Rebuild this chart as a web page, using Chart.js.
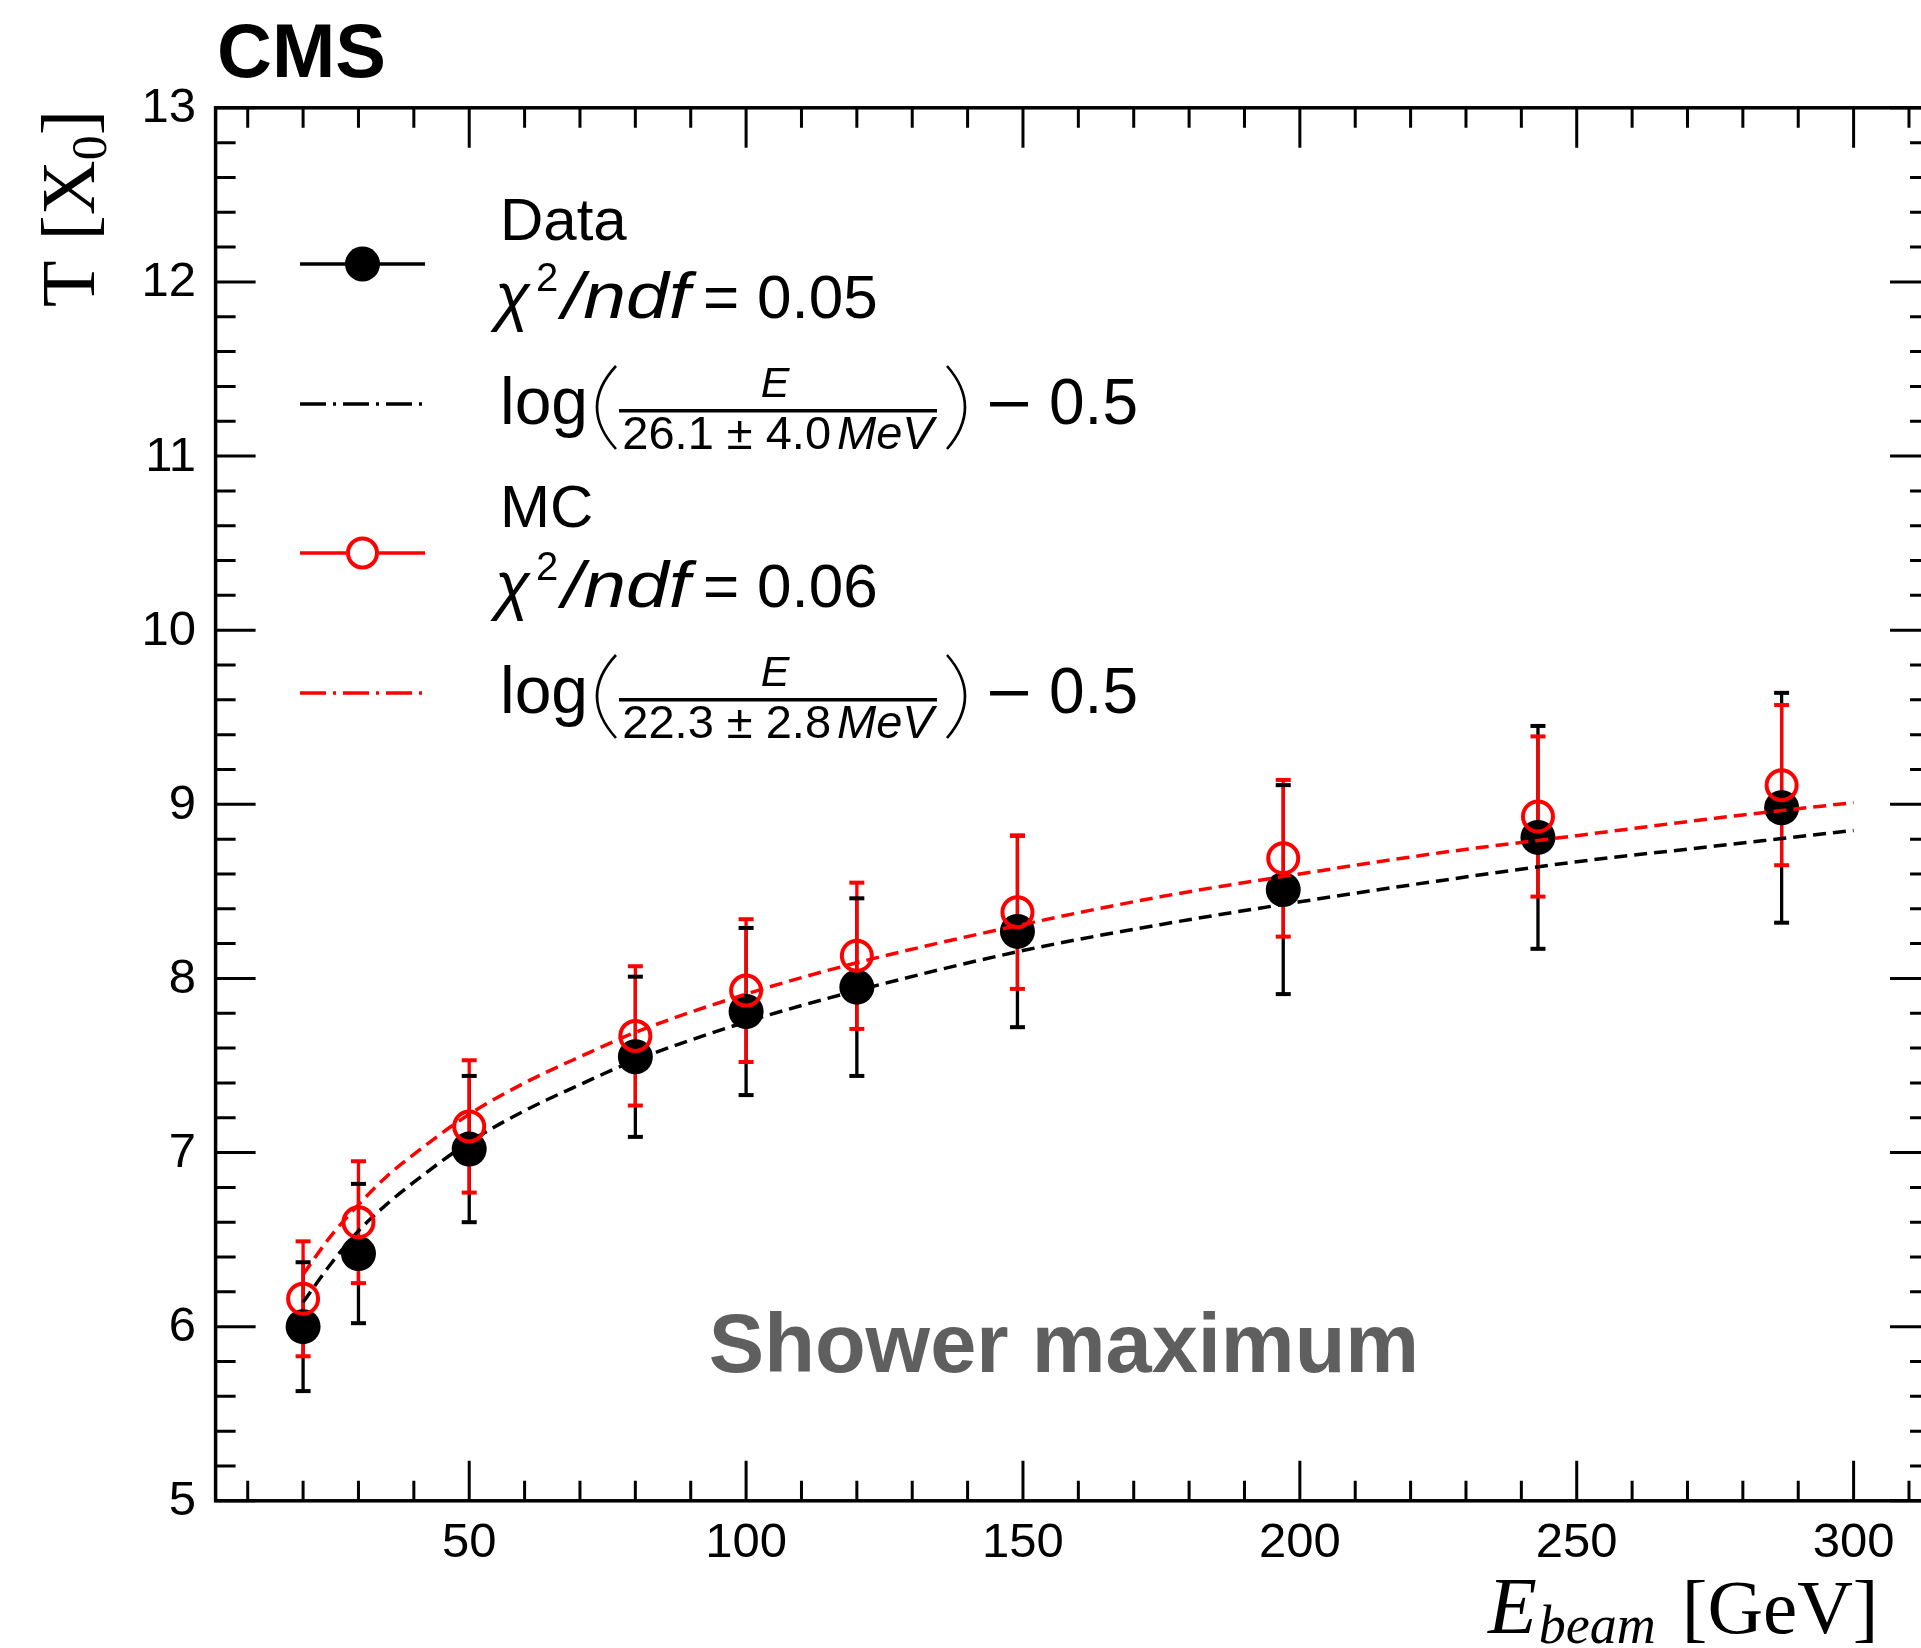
<!DOCTYPE html>
<html>
<head>
<meta charset="utf-8">
<title>CMS - Shower maximum</title>
<script src="https://cdn.jsdelivr.net/npm/chart.js@4.4.1/dist/chart.umd.min.js"></script>
<style>
    html, body { margin: 0; padding: 0; background: #fff; overflow: hidden; }
    #wrap { width: 1921px; height: 1648px; }
</style>
</head>
<body>
<div id="wrap"><canvas id="chart" width="1921" height="1648"></canvas></div>
<script>
// Beam energies (GeV)
const beamEnergy = [20, 30, 50, 80, 100, 120, 149, 197, 243, 287];

// Shower maximum T [X0] with errors
const dataT   = [6.00, 6.42, 7.02, 7.55, 7.81, 7.95, 8.27, 8.51, 8.81, 8.98];
const dataErr = [0.37, 0.40, 0.42, 0.46, 0.48, 0.51, 0.55, 0.60, 0.64, 0.66];
const mcT     = [6.16, 6.60, 7.15, 7.67, 7.93, 8.13, 8.38, 8.69, 8.93, 9.11];
const mcErr   = [0.33, 0.35, 0.38, 0.40, 0.41, 0.42, 0.44, 0.45, 0.46, 0.46];

// Fit curves
const fitE     = [20, 25, 30, 35, 40, 50, 60, 70, 80, 100, 120, 150, 175, 200, 225, 250, 275, 300];
const fitDataT = [6.14, 6.36, 6.55, 6.70, 6.83, 7.06, 7.24, 7.39, 7.53, 7.75, 7.93, 8.16, 8.31, 8.44, 8.56, 8.67, 8.76, 8.85];
const fitMcT   = [6.30, 6.52, 6.70, 6.86, 6.99, 7.22, 7.40, 7.55, 7.69, 7.91, 8.09, 8.31, 8.47, 8.60, 8.72, 8.82, 8.92, 9.01];

// Axis ticks
const xTicks = [50, 100, 150, 200, 250, 300];
const yTicks = [5, 6, 7, 8, 9, 10, 11, 12, 13];

// x range of the frame; its right edge lies just past the picture,
// so the visible part of the axis stops a little earlier
const xFrame = [4.2, 313.8];
const xVisibleMax = 312.17;

const RED = '#ff0000';
const SANS = '"Liberation Sans", Arial, sans-serif';
const SERIF = '"Liberation Serif", "Times New Roman", serif';

const toPoints = (xs, ys) => xs.map((x, i) => ({ x: x, y: ys[i] }));

// draw a list of [text, font, dy, extra gap] pieces one after another
function drawRuns(ctx, x, y, parts) {
    parts.forEach(p => {
        ctx.font = p[1];
        ctx.fillText(p[0], x, y + (p[2] || 0));
        x += ctx.measureText(p[0]).width + (p[3] || 0);
    });
    return x;
}

function runsWidth(ctx, parts) {
    let w = 0;
    parts.forEach(p => {
        ctx.font = p[1];
        w += ctx.measureText(p[0]).width + (p[3] || 0);
    });
    return w;
}

// text squeezed/stretched to a given width
function fitText(ctx, text, x, y, font, width) {
    ctx.font = font;
    const w = ctx.measureText(text).width;
    ctx.save();
    ctx.translate(x, y);
    ctx.scale(width / w, 1);
    ctx.fillText(text, 0, 0);
    ctx.restore();
}

// Error bars: lines below the markers, caps above them
function drawBarLines(chart, vals, errs, color) {
    const { ctx, scales: { x, y } } = chart;
    ctx.save();
    ctx.strokeStyle = color;
    ctx.lineWidth = 3.3;
    ctx.beginPath();
    beamEnergy.forEach((e, i) => {
        const px = x.getPixelForValue(e);
        ctx.moveTo(px, y.getPixelForValue(vals[i] + errs[i]));
        ctx.lineTo(px, y.getPixelForValue(vals[i] - errs[i]));
    });
    ctx.stroke();
    ctx.restore();
}

function drawBarCaps(chart, vals, errs, color) {
    const { ctx, scales: { x, y } } = chart;
    ctx.save();
    ctx.fillStyle = color;
    beamEnergy.forEach((e, i) => {
        const px = x.getPixelForValue(e);
        [vals[i] + errs[i], vals[i] - errs[i]].forEach(v => {
            ctx.fillRect(px - 7.5, y.getPixelForValue(v) - 2, 15, 4);
        });
    });
    ctx.restore();
}

const errorBars = {
    id: 'errorBars',
    beforeDatasetsDraw(chart) {
        drawBarLines(chart, dataT, dataErr, '#000');
        drawBarLines(chart, mcT, mcErr, RED);
    },
    afterDatasetsDraw(chart) {
        drawBarCaps(chart, dataT, dataErr, '#000');
        drawBarCaps(chart, mcT, mcErr, RED);
    }
};

// uncertainty shown in the legend fraction
const fitDenoms = { '26.1': '4.0', '22.3': '2.8' };

function drawFitLegend(ctx, yLine, color, denom) {
    // dash-dot handle
    ctx.save();
    ctx.strokeStyle = color;
    ctx.lineWidth = 3.5;
    ctx.setLineDash([26, 7, 3, 7]);
    ctx.beginPath();
    ctx.moveTo(300, yLine);
    ctx.lineTo(425, yLine);
    ctx.stroke();
    ctx.restore();

    const base = yLine + 20;
    ctx.fillStyle = '#000';
    ctx.textAlign = 'left';
    ctx.font = '66px ' + SANS;
    ctx.fillText('log', 500, base);

    // parentheses
    ctx.save();
    ctx.strokeStyle = '#000';
    ctx.lineWidth = 2.6;
    ctx.beginPath();
    ctx.moveTo(616, yLine - 38);
    ctx.quadraticCurveTo(578, yLine + 3, 616, yLine + 45);
    ctx.moveTo(947, yLine - 38);
    ctx.quadraticCurveTo(983, yLine + 3, 947, yLine + 45);
    ctx.stroke();
    ctx.restore();

    // fraction
    ctx.fillRect(619, yLine + 5, 318, 3.5);
    ctx.textAlign = 'center';
    ctx.font = 'italic 43px ' + SANS;
    ctx.fillText('E', 775, yLine - 7);
    const dparts = [[denom + ' \u00b1 ', '47px ' + SANS], [fitDenoms[denom], '47px ' + SANS, 0, 6], ['MeV', 'italic 47px ' + SANS]];
    ctx.textAlign = 'left';
    const w = runsWidth(ctx, dparts);
    drawRuns(ctx, 778 - w / 2, yLine + 45, dparts);

    // minus sign and constant
    ctx.fillRect(990, yLine - 2, 38, 4.5);
    ctx.font = '64px ' + SANS;
    ctx.fillText('0.5', 1049, base);
}

function drawChi(ctx, base, value) {
    ctx.fillStyle = '#000';
    ctx.textAlign = 'left';
    ctx.font = 'italic 64px ' + SANS;
    ctx.fillText('\u03c7', 495, base);
    ctx.font = '40px ' + SANS;
    ctx.fillText('2', 536, base - 27);
    fitText(ctx, '/ndf', 562, base, 'italic 64px ' + SANS, 128);
    ctx.font = '62px ' + SANS;
    ctx.fillText('=', 703, base);
    ctx.fillText(value, 757, base);
}

const frame = {
    id: 'frame',
    afterDraw(chart) {
        const { ctx, chartArea: a, scales: { x, y } } = chart;
        const left = x.getPixelForValue(xFrame[0]);
        const right = x.getPixelForValue(xFrame[1]);
        ctx.save();

        // inward ticks
        ctx.strokeStyle = '#000';
        ctx.lineWidth = 3;
        ctx.beginPath();
        for (let v = 10; v <= 310; v += 10) {
            const px = x.getPixelForValue(v);
            const len = xTicks.includes(v) ? 40 : 20;
            ctx.moveTo(px, a.bottom); ctx.lineTo(px, a.bottom - len);
            ctx.moveTo(px, a.top); ctx.lineTo(px, a.top + len);
        }
        for (let i = 0; i <= 40; i++) {
            const py = y.getPixelForValue(5 + i * 0.2);
            const len = i % 5 === 0 ? 40 : 20;
            ctx.moveTo(left, py); ctx.lineTo(left + len, py);
            ctx.moveTo(right, py); ctx.lineTo(right - len, py);
        }
        ctx.stroke();
        ctx.lineWidth = 3.5;
        ctx.strokeRect(left, a.top, right - left, a.bottom - a.top);

        // tick labels
        ctx.fillStyle = '#000';
        ctx.font = '49px ' + SANS;
        ctx.textAlign = 'center';
        ctx.textBaseline = 'alphabetic';
        xTicks.forEach(v => ctx.fillText(String(v), x.getPixelForValue(v), 1557));
        ctx.textAlign = 'right';
        ctx.textBaseline = 'middle';
        yTicks.forEach(v => ctx.fillText(String(v), 196, y.getPixelForValue(v) + 1));
        ctx.textBaseline = 'alphabetic';

        // axis titles
        ctx.textAlign = 'left';
        const xParts = [['E', 'italic 80px ' + SERIF, 0, 2], ['beam', 'italic 54px ' + SERIF, 10, 26], ['[GeV]', '77px ' + SERIF]];
        drawRuns(ctx, 1488, 1633, xParts);

        ctx.save();
        ctx.translate(94, 110);
        ctx.rotate(-Math.PI / 2);
        const yParts = [['T', '76px ' + SERIF, 0, 20], ['[X', '76px ' + SERIF], ['0', '50px ' + SERIF, 12], [']', '76px ' + SERIF]];
        drawRuns(ctx, -runsWidth(ctx, yParts), 0, yParts);
        ctx.restore();

        // CMS label
        ctx.font = 'bold 76px ' + SANS;
        ctx.fillText('CMS', 217, 77);

        // Shower maximum
        ctx.fillStyle = '#5f5f5f';
        ctx.font = 'bold 83px ' + SANS;
        ctx.textAlign = 'center';
        ctx.fillText('Shower maximum', 1064, 1372);

        // legend: Data
        ctx.strokeStyle = '#000';
        ctx.lineWidth = 3.5;
        ctx.beginPath();
        ctx.moveTo(300, 264); ctx.lineTo(425, 264);
        ctx.stroke();
        ctx.fillStyle = '#000';
        ctx.beginPath();
        ctx.arc(362.5, 264, 17.5, 0, Math.PI * 2);
        ctx.fill();
        ctx.textAlign = 'left';
        ctx.font = '60px ' + SANS;
        ctx.fillText('Data', 500, 240);
        drawChi(ctx, 318, '0.05');
        drawFitLegend(ctx, 404, '#000', '26.1');

        // legend: MC
        ctx.strokeStyle = RED;
        ctx.lineWidth = 3.5;
        ctx.beginPath();
        ctx.moveTo(300, 553); ctx.lineTo(346, 553);
        ctx.moveTo(379, 553); ctx.lineTo(425, 553);
        ctx.stroke();
        ctx.lineWidth = 4;
        ctx.beginPath();
        ctx.arc(362.5, 553, 14.5, 0, Math.PI * 2);
        ctx.stroke();
        ctx.fillStyle = '#000';
        ctx.font = '60px ' + SANS;
        ctx.fillText('MC', 500, 527);
        drawChi(ctx, 607, '0.06');
        drawFitLegend(ctx, 693, RED, '22.3');

        ctx.restore();
    }
};

const ctx = document.getElementById('chart').getContext('2d');
new Chart(ctx, {
    type: 'scatter',
    data: {
        datasets: [
            {
                label: 'Data',
                data: toPoints(beamEnergy, dataT),
                pointRadius: 17.5,
                pointBackgroundColor: '#000',
                pointBorderWidth: 0,
                order: 4
            },
            {
                type: 'line',
                label: 'Data fit',
                data: toPoints(fitE, fitDataT),
                borderColor: '#000',
                borderWidth: 3.5,
                borderDash: [13, 7],
                pointRadius: 0,
                fill: false,
                cubicInterpolationMode: 'monotone',
                order: 3
            },
            {
                label: 'MC',
                data: toPoints(beamEnergy, mcT),
                pointRadius: 15,
                pointBackgroundColor: 'rgba(0,0,0,0)',
                pointBorderColor: RED,
                pointBorderWidth: 4,
                order: 2
            },
            {
                type: 'line',
                label: 'MC fit',
                data: toPoints(fitE, fitMcT),
                borderColor: RED,
                borderWidth: 3.5,
                borderDash: [13, 7],
                pointRadius: 0,
                fill: false,
                cubicInterpolationMode: 'monotone',
                order: 1
            }
        ]
    },
    options: {
        responsive: false,
        animation: false,
        devicePixelRatio: 1,
        events: [],
        layout: { autoPadding: false, padding: { left: 215.6, top: 107.8, right: 0, bottom: 147.2 } },
        scales: {
            x: { type: 'linear', min: xFrame[0], max: xVisibleMax, display: false },
            y: { type: 'linear', min: 5, max: 13, display: false }
        },
        plugins: {
            legend: { display: false },
            tooltip: { enabled: false }
        }
    },
    plugins: [errorBars, frame]
});
</script>
</body>
</html>
